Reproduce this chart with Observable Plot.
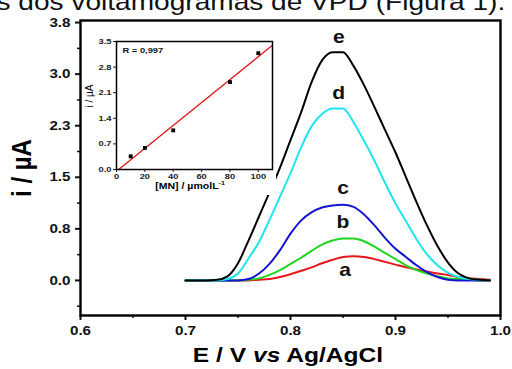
<!DOCTYPE html>
<html><head><meta charset="utf-8">
<script src="https://cdn.jsdelivr.net/npm/d3@7"></script>
<script src="https://cdn.jsdelivr.net/npm/@observablehq/plot@0.6"></script>
<style>
body{margin:0;background:#fff;font-family:"Liberation Sans",Arial,sans-serif;}
#wrap{position:relative;width:512px;height:369px;overflow:hidden;}
#main{position:absolute;left:0;top:0;}
#inset{position:absolute;left:84px;top:30px;}
#topText{position:absolute;right:7px;top:-12px;font-size:24px;line-height:normal;white-space:nowrap;color:#111;transform:scaleX(1.17);transform-origin:right center;}
#xlab{position:absolute;left:288px;top:355px;transform:translate(-50%,-50%) scaleX(1.17);font-size:21px;font-weight:bold;white-space:nowrap;}
#ylab{position:absolute;left:22px;top:168px;transform:translate(-50%,-50%) scaleX(1.17) rotate(-90deg);font-size:24px;font-weight:bold;white-space:nowrap;}
#ilabY{position:absolute;left:89px;top:96px;transform:translate(-50%,-50%) scaleX(1.17) rotate(-90deg);font-size:10px;white-space:nowrap;}
#ilabX{position:absolute;left:190px;top:185px;transform:translate(-50%,-50%) scaleX(1.17);font-size:9px;font-weight:bold;white-space:nowrap;}
</style></head>
<body><div id="wrap">
<div id="topText">es dos voltamogramas de VPD (Figura 1).</div>
<div id="main"></div>
<div id="inset"></div>
<div id="ylab">i / µA</div>
<div id="xlab">E / V <i>vs</i> Ag/AgCl</div>
<div id="ilabY">i / µA</div>
<div id="ilabX">[MN] / µmolL<sup style="font-size:6px">-1</sup></div>
</div>
<script>
// Potential grid (V)
const potential = [0.70,0.71,0.72,0.73,0.74,0.75,0.76,0.77,0.78,0.79,0.80,0.81,0.82,0.83,0.84,0.85,0.86,0.87,0.88,0.89,0.90,0.91,0.92,0.93,0.94,0.95,0.96,0.97,0.98,0.99];
const curveA = [0,0,0,0,0,0,0,0.01,0.02,0.05,0.09,0.14,0.19,0.25,0.30,0.34,0.35,0.34,0.31,0.27,0.23,0.19,0.16,0.13,0.10,0.08,0.05,0.03,0.02,0.01];
const curveB = [0,0,0,0,0,0,0.01,0.03,0.08,0.15,0.24,0.33,0.43,0.52,0.58,0.61,0.61,0.57,0.49,0.40,0.31,0.22,0.15,0.10,0.06,0.03,0.02,0.01,0,0];
const curveC = [0,0,0,0,0,0,0.02,0.10,0.24,0.44,0.68,0.87,0.99,1.06,1.09,1.10,1.07,0.96,0.80,0.62,0.46,0.34,0.22,0.12,0.05,0.01,0,0,0,0];
const curveD = [0,0,0,0,0.02,0.10,0.32,0.56,0.88,1.22,1.56,1.93,2.24,2.42,2.50,2.50,2.30,2.03,1.74,1.42,1.12,0.86,0.60,0.38,0.22,0.11,0.05,0.02,0.01,0];
const curveE = [0,0,0,0.01,0.06,0.25,0.58,0.93,1.28,1.64,2.04,2.44,2.88,3.20,3.32,3.32,3.12,2.84,2.52,2.19,1.86,1.50,1.14,0.80,0.50,0.26,0.10,0.03,0.01,0];
const curveNames = ["a","b","c","d","e"];
const curveColors = ["#e8161b","#1ed61e","#1414d2","#1ee6ee","#000000"];
const labelX = [0.852,0.850,0.850,0.846,0.846];
const labelY = [0.15,0.84,1.34,2.72,3.53];
const yTicks = [0,0.75,1.5,2.25,3.0,3.75];
const yMinor = [-0.375,0.375,1.125,1.875,2.625,3.375];
const xTicks = [0.6,0.7,0.8,0.9,1.0];
const xMinor = [0.65,0.75,0.85,0.95];

// Inset calibration data
const conc = [10,20,40,80,100];
const current = [0.36,0.59,1.07,2.39,3.18];
const insetYTicks = [0,0.7,1.4,2.1,2.8,3.5];
const insetXTicks = [0,20,40,60,80,100];
const rText = "R = 0,997";

const K = 1.17; // horizontal stretch of the reference's lettering
function stretch(svg){
  svg.querySelectorAll("text").forEach(t=>{
    const tr = t.getAttribute("transform");
    if (tr) t.setAttribute("transform", tr + ` scale(${K},1)`);
    else {
      const x = +t.getAttribute("x") || 0;
      t.setAttribute("transform", `translate(${x},0) scale(${K},1) translate(${-x},0)`);
    }
  });
}

const curves = [curveA,curveB,curveC,curveD,curveE];
const rows = [];
curves.forEach((c,i)=>c.forEach((v,j)=>rows.push({E:potential[j], I:v, s:curveNames[i]})));
const labels = curveNames.map((n,i)=>({n, x:labelX[i], y:labelY[i]}));

const main = Plot.plot({
  width:512, height:369,
  marginLeft:80, marginRight:12, marginTop:20, marginBottom:54,
  style:{fontFamily:"'Liberation Sans',Arial,sans-serif", fontWeight:"bold", fontSize:"13px", color:"#111", background:"transparent"},
  x:{domain:[0.6,1.0]},
  y:{domain:[-0.51,3.78]},
  color:{domain:curveNames, range:curveColors},
  marks:[
    Plot.axisY(yTicks,{tickSize:5, tickFormat:d3.format(".1f"), label:null, fontSize:13, fontWeight:"bold", strokeWidth:2, tickPadding:5}),
    Plot.axisY(yMinor,{tickSize:3, tickFormat:()=>"", label:null, strokeWidth:1.5}),
    Plot.axisX(xTicks,{tickSize:5, tickFormat:d3.format(".1f"), label:null, fontSize:13, fontWeight:"bold", strokeWidth:2, tickPadding:5}),
    Plot.axisX(xMinor,{tickSize:3, tickFormat:()=>"", label:null, strokeWidth:1.5}),
    Plot.line(rows,{x:"E", y:"I", z:"s", stroke:"s", strokeWidth:2, curve:"monotone-x"}),
    Plot.text(labels,{x:"x", y:"y", text:"n", fontSize:18, fontWeight:"bold", fill:"#111"}),
    Plot.frame({stroke:"#000", strokeWidth:2.4})
  ]
});
stretch(main);
document.getElementById("main").appendChild(main);

// regression from the inset points
const mx = d3.mean(conc), my = d3.mean(current);
const slope = d3.sum(conc,(x,i)=>(x-mx)*(current[i]-my))/d3.sum(conc,x=>(x-mx)**2);
const icpt = my - slope*mx;
const fitX = [-icpt/slope, 110];
const fit = fitX.map(x=>({x, y:icpt+slope*x}));

const inset = Plot.plot({
  width:192, height:165,
  marginLeft:32, marginRight:4, marginTop:11, marginBottom:26,
  style:{fontFamily:"'Liberation Sans',Arial,sans-serif", fontWeight:"bold", fontSize:"8px", color:"#222", background:"#fff"},
  x:{domain:[0,110]},
  y:{domain:[0,3.5]},
  marks:[
    Plot.axisY(insetYTicks,{tickSize:3, tickFormat:d3.format(".1f"), label:null, tickPadding:2}),
    Plot.axisX(insetXTicks,{tickSize:3, label:null, tickPadding:1}),
    Plot.line(fit,{x:"x", y:"y", stroke:"#e01818", strokeWidth:1.3}),
    Plot.dot(conc.map((c,i)=>({c, v:current[i]})),{x:"c", y:"v", symbol:"square", r:2.2, fill:"#000"}),
    Plot.text([rText],{frameAnchor:"top-left", dx:6, dy:6, text:d=>d, fontSize:8, fontWeight:"bold", fill:"#111"}),
    Plot.frame({stroke:"#000", strokeWidth:1.5})
  ]
});
stretch(inset);
document.getElementById("inset").appendChild(inset);
</script>
</body></html>
